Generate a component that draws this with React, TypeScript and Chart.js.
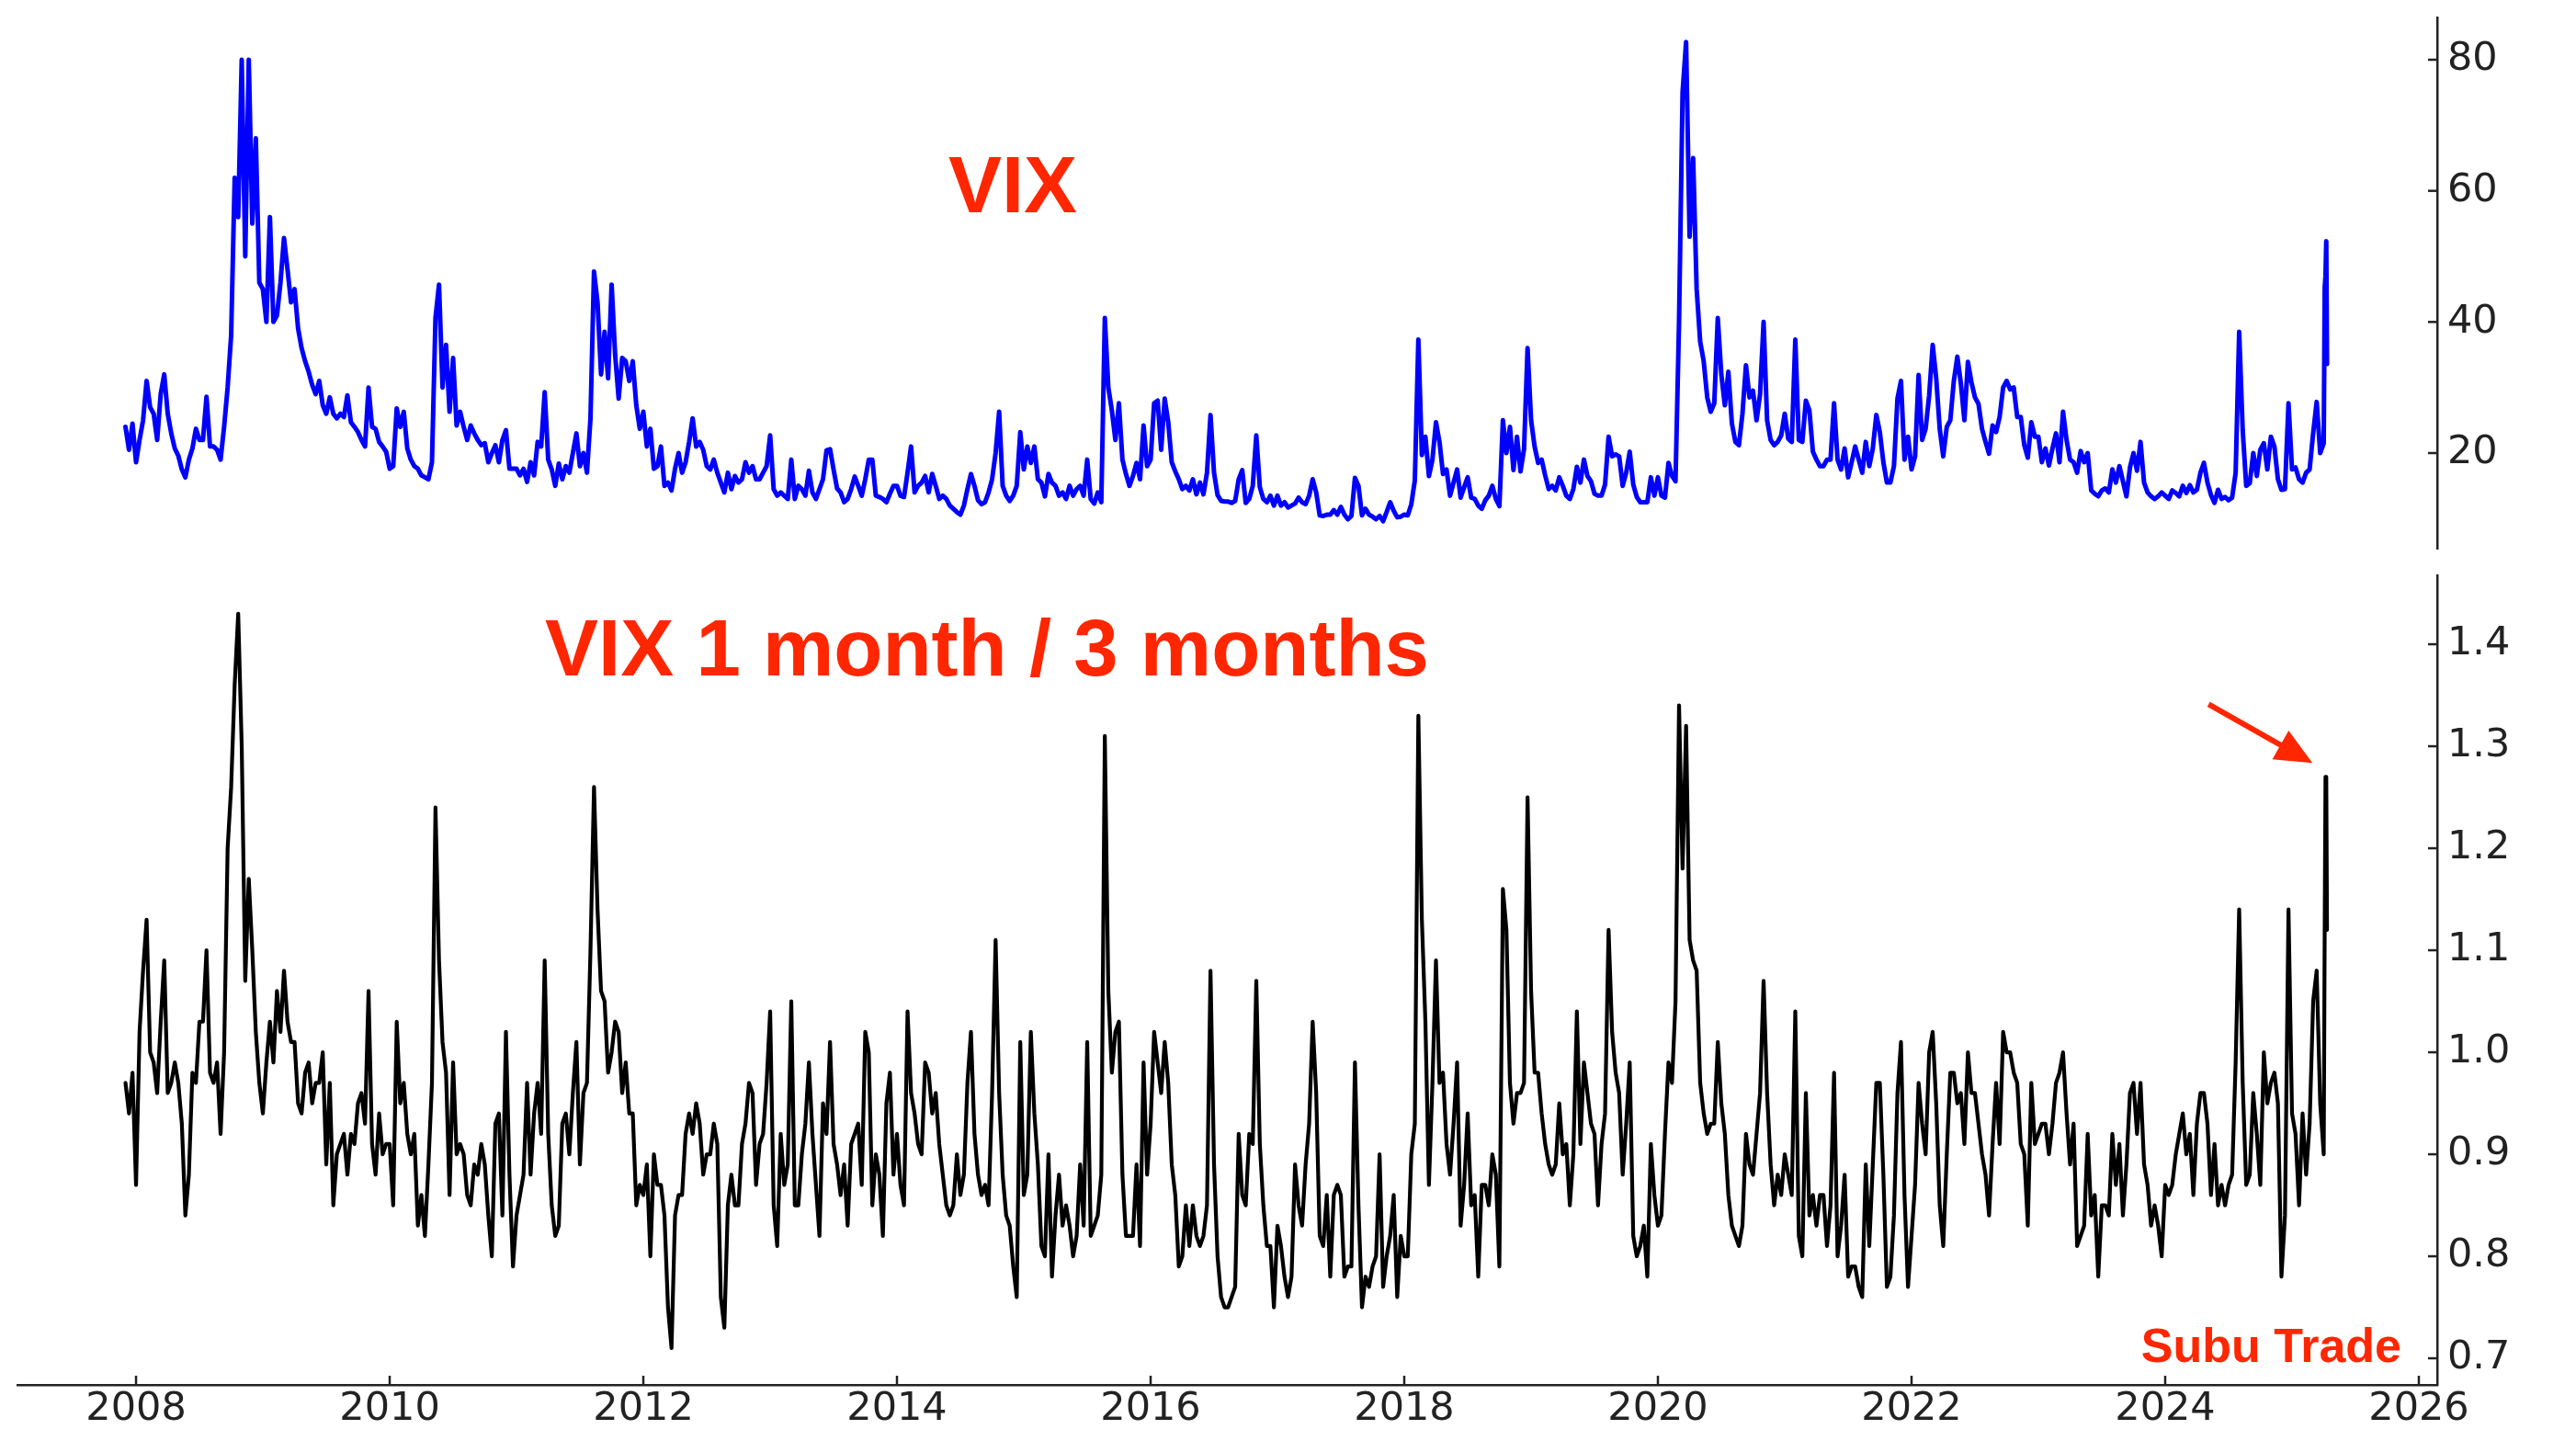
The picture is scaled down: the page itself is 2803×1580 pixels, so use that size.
import React, { useEffect, useRef } from 'react';
import { Chart, registerables } from 'chart.js';

Chart.register(...registerables);

// Sampling calendar: 36 samples per year (1st, 11th, 21st of each month), starting late Nov 2007
const SERIES_START = 2007 + 33 / 36;
const SAMPLES_PER_YEAR = 36;

// VIX level
const vixValues = [
  // 2007
  24, 20.5, 24.5,
  // 2008
  18.6, 22, 25, 31, 27, 26, 22, 29, 32, 26, 23, 20.7, 19.6, 17.5, 16.3, 19, 20.7, 23.7, 22, 22, 28.6, 21, 21, 20.5, 19, 24, 30, 38, 62, 56, 80, 50, 80, 55, 68, 46,
  // 2009
  45, 40, 56, 40, 41, 46, 52.8, 48, 43, 45, 39, 36, 34, 32.4, 30.4, 29, 31, 27.3, 26, 28.5, 26, 25.3, 26, 25.5, 28.8, 24.7, 24, 23.2, 22, 21, 30, 24, 23.7, 21.7, 21, 20.2,
  // 2010
  17.6, 18, 26.8, 24, 26.3, 20.7, 19, 18, 17.6, 16.6, 16.3, 16, 18.6, 40.6, 45.7, 30, 36.5, 26.3, 34.5, 24.2, 26.3, 24, 22, 24.2, 23, 22, 21.2, 21.5, 18.6, 20, 21.2, 18.6, 22, 23.5, 17.6, 17.6,
  // 2011
  17.6, 16.6, 17.6, 15.6, 18.6, 16.6, 21.7, 21, 29.3, 19, 17.5, 15, 18.4, 16, 18, 17, 20, 23, 18, 20, 17, 25.3, 47.7, 43, 32, 38.5, 31.4, 45.7, 35, 28.3, 34.5, 34, 31, 34, 27.3, 23.7,
  // 2012
  26.3, 21, 23.7, 17.6, 18, 21, 15, 15.5, 14.3, 17.6, 20, 17, 18.6, 21.7, 25.3, 21, 21.7, 20.5, 18, 17.5, 19, 17, 15.5, 14, 17, 14.5, 16.5, 15.5, 16, 18.6, 17, 18, 16, 16, 17, 18,
  // 2013
  22.7, 14.5, 13.5, 14, 13.5, 13, 19, 13, 15, 14.5, 13.5, 17.3, 14, 13, 14.5, 16, 20.4, 20.6, 17.5, 14.6, 14, 12.5, 13, 14.5, 16.4, 15, 13.5, 16, 19, 19, 13.5, 13.3, 13, 12.5, 13.8, 15,
  // 2014
  15, 13.5, 13.3, 17, 21, 14, 15, 15.5, 16.5, 14, 16.8, 15, 13, 13.5, 13, 12, 11.5, 11, 10.6, 12, 14.5, 16.8, 15, 12.8, 12.2, 12.5, 14, 16, 20, 26.3, 15, 13.5, 12.7, 13.5, 15, 23.2,
  // 2015
  17.5, 21, 18.5, 21, 16, 15.5, 13.4, 16.8, 15.5, 15, 13.5, 14, 13, 15, 13.5, 14.5, 15, 13.5, 19, 13, 12.3, 14, 12.5, 40.6, 30, 26.5, 22, 27.6, 19, 16.8, 15, 16.5, 18.5, 16, 24.2, 18,
  // 2016
  19, 27.6, 28, 20.5, 28.3, 24.7, 18.6, 17.2, 16, 14.5, 15, 14.3, 16, 13.7, 15.5, 13.7, 17, 25.8, 17, 13.6, 12.7, 12.6, 12.6, 12.4, 12.7, 16, 17.4, 12.4, 13, 15, 22.7, 14.8, 13, 12.5, 13.5, 12,
  // 2017
  13.5, 12, 12.5, 11.7, 12, 12.3, 13.2, 12.5, 12.2, 13.5, 16, 14, 10.5, 10.4, 10.6, 10.6, 11.3, 10.6, 11.8, 10.6, 9.9, 10.4, 16.2, 15, 10.5, 11.5, 10.6, 10.3, 9.9, 10.4, 9.6, 11, 12.5, 11.2, 10.2, 10.3,
  // 2018
  10.6, 10.5, 12.2, 15.8, 37.3, 19.7, 22.5, 16.5, 19, 24.7, 21.7, 16.8, 17.5, 13.5, 15.5, 17.5, 13.2, 14.8, 16.3, 13.2, 13, 12, 11.5, 12.8, 13.5, 15, 13, 11.9, 25, 20, 24, 17.4, 22.5, 17.2, 20.6, 36,
  // 2019
  25, 21, 18.5, 19, 16.6, 14.5, 15, 14.3, 16.3, 15, 13.5, 13, 14.5, 17.9, 15.5, 19, 16.5, 15.7, 13.8, 13.5, 13.5, 15.2, 22.5, 19.5, 19.8, 19.5, 15, 17, 20.2, 15.2, 13.3, 12.5, 12.5, 12.5, 16.3, 13.5,
  // 2020
  16.3, 13.5, 13.2, 18.5, 16.5, 15.7, 40, 75, 82.7, 53, 65, 45, 37, 34, 28.5, 26.3, 27.6, 40.6, 32, 27.3, 32.4, 24.5, 21.7, 21.2, 26, 33.4, 28.5, 29.5, 25, 29, 40, 25, 22, 21.2, 21.7, 22.7,
  // 2021
  26, 22.2, 21.7, 37.3, 22, 21.7, 28, 26.5, 20.2, 19, 18, 18, 19, 19, 27.6, 19, 17.5, 20.7, 16.3, 18.6, 21, 19, 17, 21.7, 18, 20.7, 25.8, 23.2, 18.6, 15.5, 15.5, 18, 28.3, 31, 19, 22.5,
  // 2022
  17.5, 19.5, 31.9, 22, 23.7, 28.8, 36.5, 31.4, 23.7, 19.5, 24, 25, 31, 34.7, 30.6, 25, 33.9, 30.8, 28.5, 27.5, 23.7, 21.7, 19.9, 24.2, 23.2, 25.5, 30, 31, 29.7, 30, 25.5, 25.5, 21.2, 19.3, 24.7, 22.5,
  // 2023
  22.5, 18.6, 20.7, 18.1, 20.7, 23, 18.6, 26.3, 22, 19, 18.6, 17, 20.3, 18.6, 20, 14.3, 13.8, 13.4, 14.3, 14.6, 14, 17.5, 15.5, 18, 15.7, 13.4, 17.8, 20, 17.3, 21.7, 15.5, 14, 13.4, 13, 13.4, 14,
  // 2024
  13.5, 13, 14.3, 13.9, 13.4, 15, 13.9, 15.1, 14, 14.4, 17, 18.5, 15.5, 13.6, 12.4, 14.4, 13, 13.3, 12.8, 13.2, 17, 38.5, 23.5, 15, 15.4, 20, 16.5, 20.5, 21.5, 17.5, 22.5, 21, 16, 14.4, 14.5, 27.6,
  // 2025
  17.5, 17.8, 16, 15.5, 17, 17.5, 23, 27.8, 20, 21.5,
];

// VIX 1 month / 3 months ratio
const ratioValues = [
  // 2007
  0.97, 0.94, 0.98,
  // 2008
  0.87, 1.02, 1.08, 1.13, 1.0, 0.99, 0.96, 1.03, 1.09, 0.96, 0.97, 0.99, 0.97, 0.93, 0.84, 0.88, 0.98, 0.97, 1.03, 1.03, 1.1, 0.98, 0.97, 0.99, 0.92, 1.0, 1.2, 1.26, 1.36, 1.43, 1.3, 1.07, 1.17, 1.1, 1.02, 0.97,
  // 2009
  0.94, 0.99, 1.03, 0.99, 1.06, 1.02, 1.08, 1.03, 1.01, 1.01, 0.95, 0.94, 0.98, 0.99, 0.95, 0.97, 0.97, 1.0, 0.89, 0.97, 0.85, 0.9, 0.91, 0.92, 0.88, 0.92, 0.91, 0.95, 0.96, 0.93, 1.06, 0.91, 0.88, 0.94, 0.9, 0.91,
  // 2010
  0.91, 0.85, 1.03, 0.95, 0.97, 0.92, 0.9, 0.92, 0.83, 0.86, 0.82, 0.89, 0.97, 1.24, 1.09, 1.01, 0.98, 0.86, 0.99, 0.9, 0.91, 0.9, 0.86, 0.85, 0.89, 0.88, 0.91, 0.89, 0.84, 0.8, 0.93, 0.94, 0.84, 1.02, 0.88, 0.79,
  // 2011
  0.84, 0.86, 0.88, 0.97, 0.88, 0.94, 0.97, 0.92, 1.09, 0.92, 0.85, 0.82, 0.83, 0.93, 0.94, 0.9, 0.96, 1.01, 0.89, 0.96, 0.97, 1.1, 1.26, 1.14, 1.06, 1.05, 0.98, 1.0, 1.03, 1.02, 0.96, 0.99, 0.94, 0.94, 0.85, 0.87,
  // 2012
  0.86, 0.89, 0.8, 0.9, 0.87, 0.87, 0.84, 0.75, 0.71, 0.84, 0.86, 0.86, 0.92, 0.94, 0.92, 0.95, 0.93, 0.88, 0.9, 0.9, 0.93, 0.91, 0.76, 0.73, 0.85, 0.88, 0.85, 0.85, 0.91, 0.93, 0.97, 0.96, 0.87, 0.91, 0.92, 0.97,
  // 2013
  1.04, 0.85, 0.81, 0.92, 0.87, 0.89, 1.05, 0.85, 0.85, 0.9, 0.93, 0.99, 0.92, 0.87, 0.82, 0.95, 0.92, 1.01, 0.91, 0.89, 0.86, 0.89, 0.83, 0.91, 0.92, 0.93, 0.87, 1.02, 1.0, 0.85, 0.9, 0.88, 0.82, 0.95, 0.98, 0.88,
  // 2014
  0.92, 0.87, 0.85, 1.04, 0.96, 0.94, 0.91, 0.9, 0.99, 0.98, 0.94, 0.96, 0.91, 0.88, 0.85, 0.84, 0.85, 0.9, 0.86, 0.88, 0.97, 1.02, 0.92, 0.88, 0.86, 0.87, 0.85, 0.96, 1.11, 0.96, 0.88, 0.84, 0.83, 0.79, 0.76, 1.01,
  // 2015
  0.86, 0.88, 1.02, 0.94, 0.89, 0.81, 0.8, 0.9, 0.78, 0.84, 0.88, 0.83, 0.85, 0.83, 0.8, 0.82, 0.89, 0.83, 1.01, 0.82, 0.83, 0.84, 0.88, 1.31, 1.06, 0.98, 1.02, 1.03, 0.88, 0.82, 0.82, 0.82, 0.89, 0.81, 0.99, 0.88,
  // 2016
  0.93, 1.02, 0.99, 0.96, 1.01, 0.97, 0.89, 0.86, 0.79, 0.8, 0.85, 0.81, 0.85, 0.82, 0.81, 0.82, 0.85, 1.08, 0.89, 0.8, 0.76, 0.75, 0.75, 0.76, 0.77, 0.92, 0.86, 0.85, 0.92, 0.91, 1.07, 0.91, 0.85, 0.81, 0.81, 0.75,
  // 2017
  0.83, 0.81, 0.78, 0.76, 0.78, 0.89, 0.85, 0.83, 0.89, 0.93, 1.03, 0.96, 0.82, 0.81, 0.86, 0.78, 0.86, 0.87, 0.86, 0.78, 0.79, 0.79, 0.99, 0.85, 0.75, 0.78, 0.77, 0.79, 0.8, 0.9, 0.77, 0.8, 0.82, 0.86, 0.76, 0.82,
  // 2018
  0.8, 0.8, 0.9, 0.93, 1.33, 1.13, 1.03, 0.87, 0.97, 1.09, 0.97, 0.98, 0.91, 0.88, 0.93, 0.99, 0.83, 0.87, 0.94, 0.85, 0.86, 0.78, 0.87, 0.87, 0.85, 0.9, 0.88, 0.79, 1.16, 1.12, 0.97, 0.93, 0.96, 0.96, 0.97, 1.25,
  // 2019
  1.06, 0.98, 0.98, 0.94, 0.91, 0.89, 0.88, 0.89, 0.95, 0.9, 0.91, 0.85, 0.9, 1.04, 0.91, 0.99, 0.96, 0.93, 0.92, 0.85, 0.91, 0.94, 1.12, 1.02, 0.98, 0.96, 0.88, 0.93, 0.99, 0.82, 0.8, 0.81, 0.83, 0.78, 0.91, 0.86,
  // 2020
  0.83, 0.84, 0.92, 0.99, 0.97, 1.05, 1.34, 1.18, 1.32, 1.11, 1.09, 1.08, 0.97, 0.94, 0.92, 0.93, 0.93, 1.01, 0.95, 0.92, 0.86, 0.83, 0.82, 0.81, 0.83, 0.92, 0.89, 0.88, 0.92, 0.96, 1.07, 0.96, 0.89, 0.85, 0.88, 0.86,
  // 2021
  0.9, 0.88, 0.86, 1.04, 0.82, 0.8, 0.96, 0.84, 0.86, 0.83, 0.86, 0.86, 0.81, 0.85, 0.98, 0.8, 0.83, 0.88, 0.78, 0.79, 0.79, 0.77, 0.76, 0.89, 0.81, 0.89, 0.97, 0.97, 0.88, 0.77, 0.78, 0.84, 0.96, 1.01, 0.86, 0.77,
  // 2022
  0.82, 0.87, 0.97, 0.93, 0.9, 1.0, 1.02, 0.95, 0.85, 0.81, 0.9, 0.98, 0.98, 0.95, 0.96, 0.91, 1.0, 0.96, 0.96, 0.93, 0.9, 0.88, 0.84, 0.91, 0.97, 0.91, 1.02, 1.0, 1.0, 0.98, 0.97, 0.91, 0.9, 0.83, 0.97, 0.91,
  // 2023
  0.92, 0.93, 0.93, 0.9, 0.93, 0.97, 0.98, 1.0, 0.94, 0.89, 0.93, 0.81, 0.82, 0.83, 0.92, 0.84, 0.86, 0.78, 0.85, 0.85, 0.84, 0.92, 0.87, 0.91, 0.84, 0.89, 0.96, 0.97, 0.92, 0.97, 0.89, 0.87, 0.83, 0.85, 0.83, 0.8,
  // 2024
  0.87, 0.86, 0.87, 0.9, 0.92, 0.94, 0.9, 0.92, 0.86, 0.93, 0.96, 0.96, 0.93, 0.86, 0.91, 0.85, 0.87, 0.85, 0.87, 0.88, 0.99, 1.14, 0.97, 0.87, 0.88, 0.96, 0.92, 0.87, 1.0, 0.95, 0.97, 0.98, 0.95, 0.78, 0.84, 1.14,
  // 2025
  0.94, 0.92, 0.85, 0.94, 0.88, 0.93, 1.05, 1.08, 0.95, 0.9,
];

// Daily readings of the April 2025 spike (after the last regular sample)
const tailDates = [2025.258, 2025.264, 2025.27, 2025.276];
const vixTail = [45.3, 47, 52.3, 33.6];
const ratioTail = [1.13, 1.27, 1.27, 1.12];

// Axis ticks
const xTicks = [2008, 2010, 2012, 2014, 2016, 2018, 2020, 2022, 2024, 2026];
const vixTicks = [20, 40, 60, 80];
const ratioTicks = [0.7, 0.8, 0.9, 1.0, 1.1, 1.2, 1.3, 1.4];

// Texts
const vixTitle = 'VIX';
const ratioTitle = 'VIX 1 month / 3 months';
const brand = 'Subu Trade';

const X_MIN = 2007.065;
const X_MAX = 2026.145;
const VIX_MIN = 5.42;
const VIX_MAX = 86.45;
const RATIO_MIN = 0.6739;
const RATIO_MAX = 1.4676;

const RED = '#FF2600';
const AXIS = '#222222';
const TICK_FONT = { family: 'DejaVu Sans', size: 43 };
const TITLE_FONT = 'bold 87px "Liberation Sans", Arial, sans-serif';

function buildPoints(values: number[], tail: number[]) {
  const pts = values.map((v, i) => ({ x: SERIES_START + i / SAMPLES_PER_YEAR, y: v }));
  tail.forEach((v, i) => pts.push({ x: tailDates[i], y: v }));
  return pts;
}

const inwardTicks = {
  id: 'inwardTicks',
  afterDraw(chart: any) {
    const ctx = chart.ctx;
    const { right, bottom } = chart.chartArea;
    ctx.save();
    ctx.strokeStyle = AXIS;
    ctx.lineWidth = 2.5;
    const ys = chart.scales.y;
    ys.ticks.forEach((t: any) => {
      const py = ys.getPixelForValue(t.value);
      ctx.beginPath();
      ctx.moveTo(right, py);
      ctx.lineTo(right - 10, py);
      ctx.stroke();
    });
    const xs = chart.scales.x;
    if (xs.options.display) {
      xs.ticks.forEach((t: any) => {
        const px = xs.getPixelForValue(t.value);
        ctx.beginPath();
        ctx.moveTo(px, bottom);
        ctx.lineTo(px, bottom - 10);
        ctx.stroke();
      });
    }
    ctx.restore();
  },
};

function clearPadding(s: any) {
  s.paddingTop = 0;
  s.paddingBottom = 0;
  s.paddingLeft = 0;
  s.paddingRight = 0;
}

function xScale(display: boolean) {
  return {
    type: 'linear',
    min: X_MIN,
    max: X_MAX,
    display,
    afterBuildTicks: (s: any) => {
      s.ticks = xTicks.map((v) => ({ value: v }));
    },
    afterFit: (s: any) => {
      s.height = display ? 73 : 0;
      clearPadding(s);
    },
    grid: { display: false, drawTicks: false },
    border: { display: true, color: AXIS, width: 2.5 },
    ticks: {
      autoSkip: false,
      maxRotation: 0,
      padding: 1,
      color: AXIS,
      font: TICK_FONT,
      callback: (v: any) => String(v),
    },
  };
}

function yScale(min: number, max: number, tickValues: number[], fmt: (v: number) => string) {
  return {
    type: 'linear',
    position: 'right',
    min,
    max,
    afterBuildTicks: (s: any) => {
      s.ticks = tickValues.map((v) => ({ value: v }));
    },
    afterFit: (s: any) => {
      s.width = 151;
      clearPadding(s);
    },
    grid: { display: false, drawTicks: false },
    border: { display: true, color: AXIS, width: 2.5 },
    ticks: {
      padding: 11,
      color: AXIS,
      font: TICK_FONT,
      callback: (v: any) => fmt(Number(v)),
    },
  };
}

export default function App() {
  const topRef = useRef<HTMLCanvasElement | null>(null);
  const botRef = useRef<HTMLCanvasElement | null>(null);

  useEffect(() => {
    if (!topRef.current || !botRef.current) return;

    const vixPoints = buildPoints(vixValues, vixTail);
    const ratioPoints = buildPoints(ratioValues, ratioTail);

    const topTitle = {
      id: 'topTitle',
      afterDraw(chart: any) {
        const ctx = chart.ctx;
        ctx.save();
        ctx.fillStyle = RED;
        ctx.font = TITLE_FONT;
        ctx.textAlign = 'center';
        ctx.textBaseline = 'alphabetic';
        ctx.fillText(vixTitle, 1102, 231);
        ctx.restore();
      },
    };

    const bottomTexts = {
      id: 'bottomTexts',
      afterDraw(chart: any) {
        const ctx = chart.ctx;
        ctx.save();
        ctx.fillStyle = RED;
        ctx.font = TITLE_FONT;
        ctx.textAlign = 'left';
        ctx.textBaseline = 'alphabetic';
        ctx.fillText(ratioTitle, 593, 135);
        ctx.font = 'bold 52px "Liberation Sans", Arial, sans-serif';
        ctx.textAlign = 'right';
        ctx.fillText(brand, 2613, 882);

        // arrow pointing at the latest peak of the ratio
        const xs = chart.scales.x;
        const ys = chart.scales.y;
        let peak = ratioPoints[ratioPoints.length - 1];
        ratioPoints.forEach((p) => {
          if (p.x > 2025 && p.y >= peak.y) peak = p;
        });
        const px = xs.getPixelForValue(peak.x);
        const py = ys.getPixelForValue(peak.y);
        const tipX = px - 15;
        const tipY = py - 15;
        const sx = px - 128;
        const sy = py - 79;
        const dx = tipX - sx;
        const dy = tipY - sy;
        const len = Math.hypot(dx, dy);
        const ux = dx / len;
        const uy = dy / len;
        const headLen = 40;
        const headHalf = 18;
        const bx = tipX - ux * headLen;
        const by = tipY - uy * headLen;
        ctx.strokeStyle = RED;
        ctx.lineWidth = 6;
        ctx.lineCap = 'butt';
        ctx.beginPath();
        ctx.moveTo(sx, sy);
        ctx.lineTo(bx + ux * 2, by + uy * 2);
        ctx.stroke();
        ctx.beginPath();
        ctx.moveTo(tipX, tipY);
        ctx.lineTo(bx - uy * headHalf, by + ux * headHalf);
        ctx.lineTo(bx + uy * headHalf, by - ux * headHalf);
        ctx.closePath();
        ctx.fill();
        ctx.restore();
      },
    };

    const common = {
      responsive: false,
      animation: false,
      devicePixelRatio: 1,
      events: [],
      plugins: { legend: { display: false }, tooltip: { enabled: false } },
      elements: { point: { radius: 0 } },
    };

    const top = new Chart(topRef.current, {
      type: 'line',
      data: {
        datasets: [
          {
            data: vixPoints,
            borderColor: '#0000FF',
            borderWidth: 5,
            pointRadius: 0,
            tension: 0,
            fill: false,
            borderJoinStyle: 'round',
            borderCapStyle: 'round',
          },
        ],
      },
      options: {
        ...common,
        layout: { padding: { left: 19, top: 19, right: 0, bottom: 3 } },
        scales: {
          x: xScale(false),
          y: yScale(VIX_MIN, VIX_MAX, vixTicks, (v) => String(Math.round(v))),
        },
      } as any,
      plugins: [inwardTicks, topTitle],
    } as any);

    const bottom = new Chart(botRef.current, {
      type: 'line',
      data: {
        datasets: [
          {
            data: ratioPoints,
            borderColor: '#000000',
            borderWidth: 4.2,
            pointRadius: 0,
            tension: 0,
            fill: false,
            borderJoinStyle: 'round',
            borderCapStyle: 'round',
          },
        ],
      },
      options: {
        ...common,
        layout: { padding: { left: 19, top: 26, right: 0, bottom: 0 } },
        scales: {
          x: xScale(true),
          y: yScale(RATIO_MIN, RATIO_MAX, ratioTicks, (v) => v.toFixed(1)),
        },
      } as any,
      plugins: [inwardTicks, bottomTexts],
    } as any);

    return () => {
      top.destroy();
      bottom.destroy();
    };
  }, []);

  return (
    <div
      style={{
        position: 'fixed',
        left: 0,
        top: 0,
        width: 2803,
        height: 1580,
        background: '#ffffff',
        overflow: 'hidden',
      }}
    >
      <canvas
        ref={topRef}
        width={2803}
        height={600}
        style={{ position: 'absolute', left: 0, top: 0, width: 2803, height: 600 }}
      />
      <canvas
        ref={botRef}
        width={2803}
        height={980}
        style={{ position: 'absolute', left: 0, top: 600, width: 2803, height: 980 }}
      />
    </div>
  );
}
